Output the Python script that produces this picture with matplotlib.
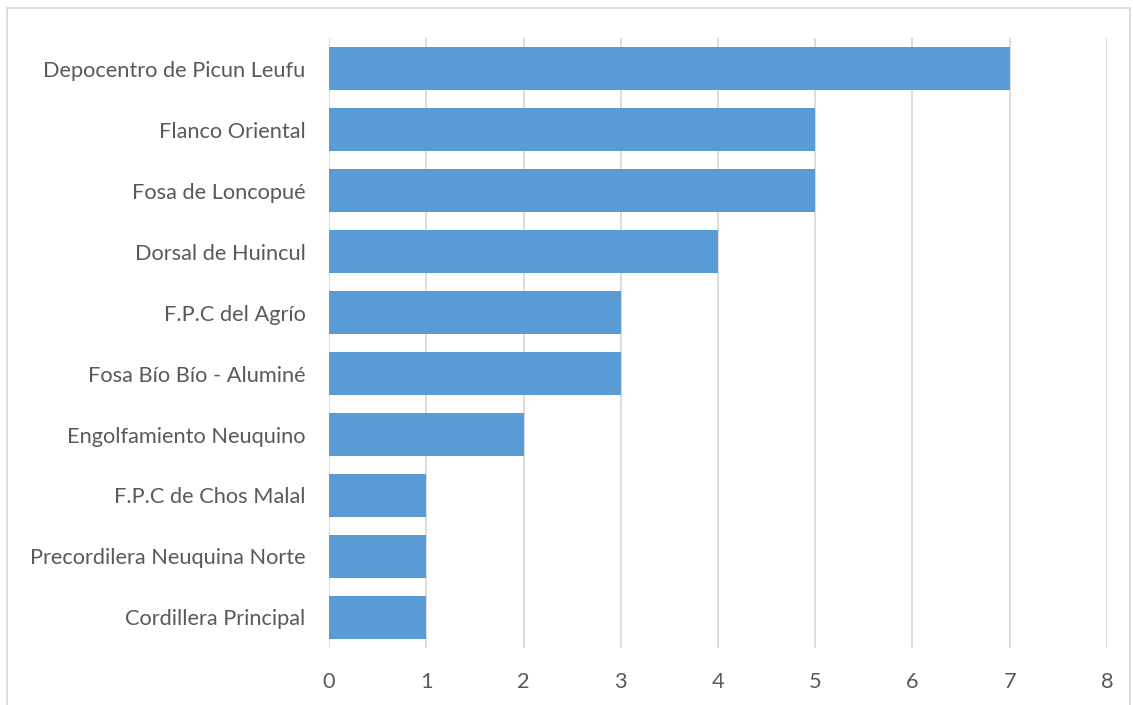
import matplotlib.pyplot as plt
from matplotlib.patches import Rectangle

categories = [
    "Depocentro de Picun Leufu",
    "Flanco Oriental",
    "Fosa de Loncopué",
    "Dorsal de Huincul",
    "F.P.C del Agrío",
    "Fosa Bío Bío - Aluminé",
    "Engolfamiento Neuquino",
    "F.P.C de Chos Malal",
    "Precordilera Neuquina Norte",
    "Cordillera Principal",
]
values = [7, 5, 5, 4, 3, 3, 2, 1, 1, 1]
x_ticks = [0, 1, 2, 3, 4, 5, 6, 7, 8]

plt.rcParams['font.family'] = ['Lato', 'DejaVu Sans']
text_color = '#595959'
grid_color = '#D9D9D9'

fig = plt.figure(figsize=(11.33, 7.05), dpi=100)
ax = fig.add_axes([0.2904, 0.0809, 0.9770 - 0.2904, 0.946 - 0.0809])

ypos = list(range(len(categories)))
ax.barh(ypos, values, height=0.71, color='#5B9BD5', zorder=3)
ax.set_ylim(len(categories) - 0.5, -0.5)
ax.set_xlim(0, 8)
ax.set_xticks(x_ticks)
ax.set_yticks(ypos)
ax.set_yticklabels(categories)

ax.grid(axis='x', color=grid_color, linewidth=1.3, zorder=0)
for s in ax.spines.values():
    s.set_visible(False)
ax.tick_params(axis='both', length=0, colors=text_color, labelsize=15.7)
ax.tick_params(axis='x', pad=17)
ax.tick_params(axis='y', pad=17)

# outer chart frame
fig.patches.append(Rectangle((0.0062, -0.01), 0.9915, 0.9985, transform=fig.transFigure,
                             fill=False, edgecolor=grid_color, linewidth=1.3))

fig.savefig('out.png', dpi=100)
